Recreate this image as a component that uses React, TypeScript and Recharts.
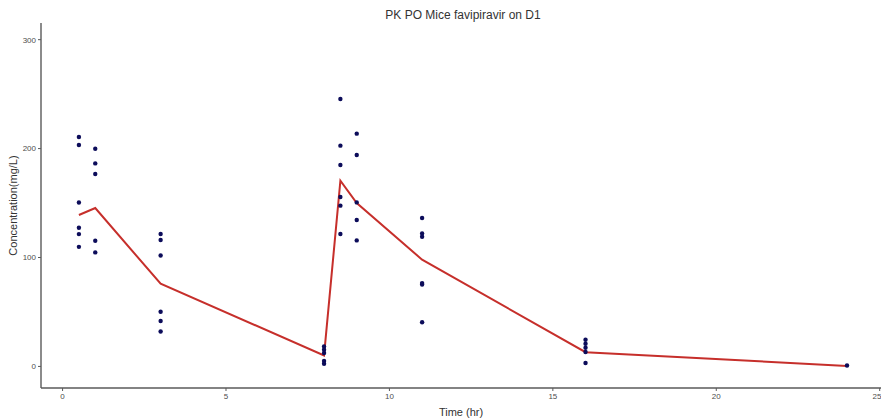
import React from 'react';
import { ComposedChart, Line, Scatter, XAxis, YAxis, Label } from 'recharts';

// sampling times (hr) and observed concentrations (mg/L) per time
const obsTimes = [0.5, 1, 3, 8, 8.5, 9, 11, 16, 24];
const obsValues = [
  [210.6, 203.3, 150.5, 127.3, 121.5, 109.8],
  [199.9, 186.4, 176.7, 115.4, 104.7],
  [121.6, 116.1, 101.9, 50.2, 41.7, 32.1],
  [18.4, 15.3, 12.3, 5, 2.5],
  [245.5, 202.7, 184.9, 155.5, 147.6, 121.6],
  [213.7, 194.1, 150.6, 134.4, 115.7],
  [136.3, 122.1, 119.1, 76.5, 75.2, 40.6],
  [24.5, 20.8, 17.2, 13.2, 3.1],
  [0.9],
];

// mean profile
const meanTimes = [0.5, 1, 3, 8, 8.5, 9, 11, 16, 24];
const meanValues = [139, 145.4, 75.9, 10.1, 170.5, 150, 98, 13.1, 0.4];

const xTicks = [0, 5, 10, 15, 20, 25];
const yTicks = [0, 100, 200, 300];

const observed = obsTimes.flatMap((t, i) => obsValues[i].map((c) => ({ t, c })));
const mean = meanTimes.map((t, i) => ({ t, c: meanValues[i] }));

const FONT = '"Liberation Sans", Arial, sans-serif';
const AXIS = '#5a5a5a';
const TICK = { fill: '#4d4d4d', fontSize: 8, fontFamily: FONT };

const Dot = (props: any) => <circle cx={props.cx} cy={props.cy} r={2.2} fill="#0c0c5a" />;

export default function App() {
  return (
    <div style={{ position: 'absolute', left: 0, top: 0, width: 881, height: 419, overflow: 'hidden', background: '#fff' }}>
      <div
        style={{
          position: 'absolute',
          top: 8,
          left: 0,
          width: 926,
          textAlign: 'center',
          fontFamily: FONT,
          fontSize: 12,
          color: '#333',
        }}
      >
        PK PO Mice favipiravir on D1
      </div>
      <ComposedChart width={881} height={419} margin={{ top: 23, right: 0, left: 0, bottom: 0 }}>
        <XAxis
          type="number"
          dataKey="t"
          domain={[-0.66, 25.04]}
          ticks={xTicks}
          allowDataOverflow
          height={31}
          tick={TICK}
          tickSize={3}
          tickLine={{ stroke: AXIS }}
          axisLine={{ stroke: AXIS, strokeWidth: 1.4 }}
        >
          <Label value="Time (hr)" position="insideBottom" offset={3} fill="#333" fontSize={11} fontFamily={FONT} />
        </XAxis>
        <YAxis
          type="number"
          dataKey="c"
          domain={[-19.8, 315.3]}
          ticks={yTicks}
          allowDataOverflow
          width={41}
          tick={TICK}
          tickSize={3}
          tickLine={{ stroke: AXIS }}
          axisLine={{ stroke: AXIS, strokeWidth: 1.4 }}
        >
          <Label
            content={({ viewBox }: any) => (
              <text
                transform={`translate(${viewBox.x + 17},${viewBox.y + viewBox.height / 2}) rotate(-90)`}
                textAnchor="middle"
                fill="#333"
                fontSize={11}
                fontFamily={FONT}
              >
                Concentration(mg/L)
              </text>
            )}
          />
        </YAxis>
        <Line
          data={mean}
          dataKey="c"
          type="linear"
          stroke="#c62f2b"
          strokeWidth={2}
          dot={false}
          isAnimationActive={false}
        />
        <Scatter data={observed} dataKey="c" shape={Dot} isAnimationActive={false} />
      </ComposedChart>
    </div>
  );
}
